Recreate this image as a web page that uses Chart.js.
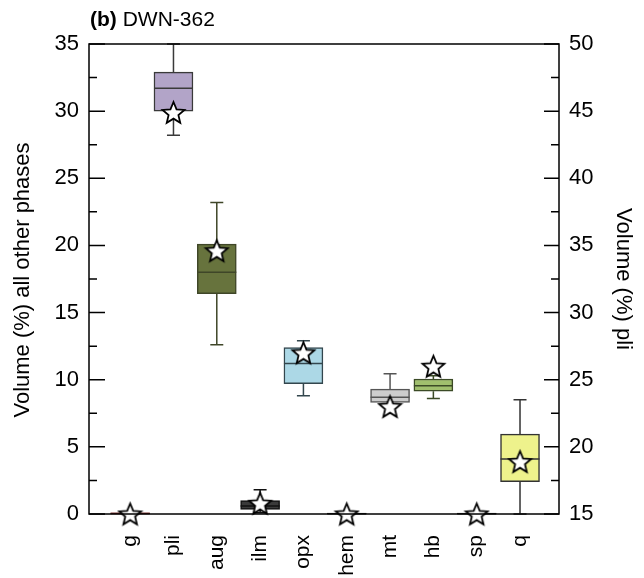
<!DOCTYPE html>
<html>
<head>
<meta charset="utf-8">
<script src="https://cdn.jsdelivr.net/npm/chart.js@4"></script>
<style>
  html, body { margin: 0; padding: 0; background: #fff; }
  #wrap { width: 644px; height: 578px; }
</style>
</head>
<body>
<div id="wrap"><canvas id="chart" width="644" height="578"></canvas></div>
<script>
// phases, left to right (pli is read on the right-hand axis)
const categories = ['g', 'pli', 'aug', 'ilm', 'opx', 'hem', 'mt', 'hb', 'sp', 'q'];
const axisOf     = ['y', 'y2', 'y', 'y', 'y', 'y', 'y', 'y', 'y', 'y'];

// box plot statistics (vol %)
const whiskerLow  = [0,    43.2, 12.6, 0.1,  8.8,  0,    8.0,  8.6,  0,    0];
const q1          = [0,    45.0, 16.4, 0.35, 9.7,  0,    8.3,  9.15, 0,    2.4];
const median      = [0.03, 46.7, 18.0, 0.6,  11.2, 0.02, 8.7,  9.55, 0.02, 4.1];
const q3          = [0.08, 47.9, 20.1, 1.0,  12.4, 0.06, 9.3,  10.05, 0.06, 5.95];
const whiskerHigh = [0.08, 50.0, 23.2, 1.8,  12.9, 0.06, 10.45, 10.3, 0.06, 8.5];

// measured value for this sample (stars)
const starValues  = [0, 44.9, 19.6, 0.8, 12.0, 0, 8.0, 11.0, 0, 3.9];

const fillColors = ['#8c2a22', '#b2a4c8', '#67733d', '#3a3a3a', '#acd8e6',
                    '#2a2a2a', '#cdcdcd', '#a0bf6e', '#2a2a2a', '#eef28c'];
const edgeColors = ['#6b1d18', '#3a3a3a', '#3f4628', '#111111', '#33464d',
                    '#222222', '#555555', '#3b4a26', '#222222', '#333333'];

const leftTicks  = { min: 0, max: 35, step: 2.5 };
const rightTicks = { min: 15, max: 50, step: 2.5 };

const FONT = '"Liberation Sans", Arial, Helvetica, sans-serif';

// five pointed star used as point style
function makeStar(size) {
  const c = document.createElement('canvas');
  c.width = size; c.height = size;
  const g = c.getContext('2d');
  const cx = size / 2, cy = size / 2 + 1, R = size / 2 - 2, r = R * 0.45;
  g.beginPath();
  for (let i = 0; i < 10; i++) {
    const rad = i % 2 === 0 ? R : r;
    const a = -Math.PI / 2 + i * Math.PI / 5;
    const px = cx + rad * Math.cos(a), py = cy + rad * Math.sin(a);
    if (i === 0) g.moveTo(px, py); else g.lineTo(px, py);
  }
  g.closePath();
  g.fillStyle = '#fff';
  g.fill();
  g.lineWidth = 1.8;
  g.strokeStyle = '#000';
  g.lineJoin = 'miter';
  g.stroke();
  return c;
}
const star = makeStar(27);

function pick(axis, fn) {
  return categories.map((c, i) => i).filter(i => axisOf[i] === axis).map(fn);
}

const boxLeft = {
  type: 'bar', label: 'boxes', yAxisID: 'y', order: 2, grouped: false,
  data: pick('y', i => ({ x: i + 1, y: [q1[i], q3[i]] })),
  backgroundColor: pick('y', i => fillColors[i]),
  borderColor: pick('y', i => edgeColors[i]),
  borderWidth: 1.5, borderSkipped: false, barThickness: 39
};
const boxRight = {
  type: 'bar', label: 'pli box', yAxisID: 'y2', order: 2, grouped: false,
  data: pick('y2', i => ({ x: i + 1, y: [q1[i], q3[i]] })),
  backgroundColor: pick('y2', i => fillColors[i]),
  borderColor: pick('y2', i => edgeColors[i]),
  borderWidth: 1.5, borderSkipped: false, barThickness: 39
};
const starLeft = {
  type: 'scatter', label: 'sample', yAxisID: 'y', order: 0, clip: false,
  data: pick('y', i => ({ x: i + 1, y: starValues[i] })),
  pointStyle: star, pointRadius: 13
};
const starRight = {
  type: 'scatter', label: 'sample pli', yAxisID: 'y2', order: 0, clip: false,
  data: pick('y2', i => ({ x: i + 1, y: starValues[i] })),
  pointStyle: star, pointRadius: 13
};

// whiskers under the boxes, medians on top of them
const boxPlotLines = {
  id: 'boxPlotLines',
  beforeDatasetsDraw(chart) {
    const ctx = chart.ctx, xs = chart.scales.x;
    ctx.save();
    ctx.lineWidth = 1.5;
    categories.forEach((c, i) => {
      const ys = chart.scales[axisOf[i]];
      const x = xs.getPixelForValue(i + 1);
      const capHi = ys.getPixelForValue(whiskerHigh[i]);
      const capLo = ys.getPixelForValue(whiskerLow[i]);
      ctx.strokeStyle = edgeColors[i];
      ctx.beginPath();
      ctx.moveTo(x, ys.getPixelForValue(q3[i])); ctx.lineTo(x, capHi);
      ctx.moveTo(x, ys.getPixelForValue(q1[i])); ctx.lineTo(x, capLo);
      ctx.moveTo(x - 6.5, capHi); ctx.lineTo(x + 6.5, capHi);
      ctx.moveTo(x - 6.5, capLo); ctx.lineTo(x + 6.5, capLo);
      ctx.stroke();
    });
    ctx.restore();
  },
  afterDatasetDraw(chart, args) {
    if (args.meta.type !== 'bar') return;
    const ctx = chart.ctx, xs = chart.scales.x;
    const axis = args.meta.yAxisID;
    ctx.save();
    ctx.lineWidth = 1.5;
    categories.forEach((c, i) => {
      if (axisOf[i] !== axis) return;
      const x = xs.getPixelForValue(i + 1);
      const y = chart.scales[axis].getPixelForValue(median[i]);
      ctx.strokeStyle = edgeColors[i];
      ctx.beginPath();
      ctx.moveTo(x - 19.5, y); ctx.lineTo(x + 19.5, y);
      ctx.stroke();
    });
    ctx.restore();
  }
};

// frame, inward tick marks, axis titles and panel title
const frame = {
  id: 'frame',
  afterDraw(chart) {
    const ctx = chart.ctx, a = chart.chartArea;
    ctx.save();
    ctx.strokeStyle = '#000';
    ctx.lineWidth = 1.5;
    ctx.strokeRect(a.left, a.top, a.right - a.left, a.bottom - a.top);
    ctx.beginPath();
    chart.scales.y.ticks.forEach(t => {
      const y = chart.scales.y.getPixelForValue(t.value);
      const len = t.value % 5 === 0 ? 16 : 8;
      ctx.moveTo(a.left, y); ctx.lineTo(a.left + len, y);
    });
    chart.scales.y2.ticks.forEach(t => {
      const y = chart.scales.y2.getPixelForValue(t.value);
      const len = t.value % 5 === 0 ? 15 : 8;
      ctx.moveTo(a.right, y); ctx.lineTo(a.right - len, y);
    });
    ctx.stroke();

    ctx.fillStyle = '#000';
    ctx.textBaseline = 'alphabetic';
    ctx.textAlign = 'left';
    ctx.font = 'bold 21px ' + FONT;
    ctx.fillText('(b)', 90, 26);
    const w = ctx.measureText('(b) ').width;
    ctx.font = '21px ' + FONT;
    ctx.fillText('DWN-362', 90 + w, 26);

    ctx.font = '22px ' + FONT;
    ctx.textAlign = 'center';
    ctx.textBaseline = 'middle';
    ctx.save();
    ctx.translate(23, 280);
    ctx.rotate(-Math.PI / 2);
    ctx.fillText('Volume (%) all other phases', 0, 0);
    ctx.restore();
    ctx.save();
    ctx.translate(623, 279);
    ctx.rotate(Math.PI / 2);
    ctx.fillText('Volume (%) pli', 0, 0);
    ctx.restore();
    ctx.restore();
  }
};

new Chart(document.getElementById('chart'), {
  type: 'bar',
  data: { datasets: [boxLeft, boxRight, starLeft, starRight] },
  options: {
    responsive: false,
    animation: false,
    layout: { padding: { left: 0, right: 0, top: 44, bottom: 0 } },
    plugins: { legend: { display: false }, tooltip: { enabled: false } },
    scales: {
      x: {
        type: 'linear', min: 0.05, max: 10.9, offset: false,
        grid: { display: false, drawTicks: false },
        border: { display: false },
        afterBuildTicks: s => { s.ticks = categories.map((c, i) => ({ value: i + 1 })); },
        afterFit: s => { s.height = 64; },
        ticks: {
          autoSkip: false, minRotation: 90, maxRotation: 90, padding: 21,
          color: '#000', font: { family: FONT, size: 21 },
          callback: v => categories[v - 1]
        }
      },
      y: {
        position: 'left', min: leftTicks.min, max: leftTicks.max,
        grid: { display: false, drawTicks: false },
        border: { display: false },
        afterFit: s => { s.width = 89; },
        ticks: {
          stepSize: leftTicks.step, padding: 10, color: '#000',
          font: { family: FONT, size: 22 },
          callback: v => (v % 5 === 0 ? v : '')
        }
      },
      y2: {
        position: 'right', min: rightTicks.min, max: rightTicks.max,
        grid: { display: false, drawTicks: false },
        border: { display: false },
        afterFit: s => { s.width = 85; },
        ticks: {
          stepSize: rightTicks.step, padding: 10, color: '#000',
          font: { family: FONT, size: 22 },
          callback: v => (v % 5 === 0 ? v : '')
        }
      }
    }
  },
  plugins: [boxPlotLines, frame]
});
</script>
</body>
</html>
